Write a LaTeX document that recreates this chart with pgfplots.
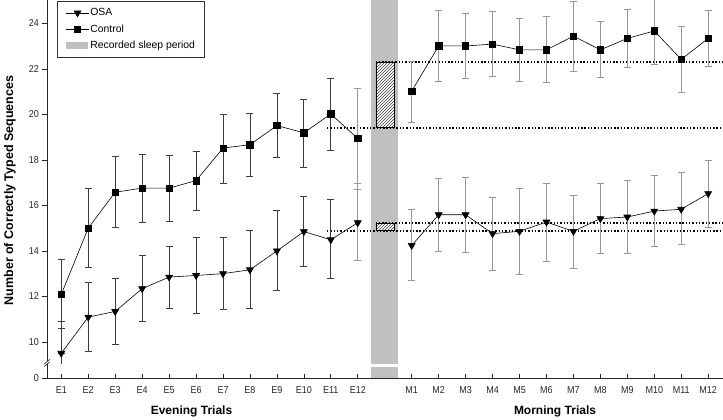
\documentclass[border=0pt]{standalone}
\usepackage{fontspec}
\setmainfont{Liberation Sans}
\newfontfamily\narrowfont[FakeStretch=0.9]{Liberation Sans}
\usepackage{pgfplots}
\pgfplotsset{compat=1.18}
\usepackage{pgfplotstable}
\usetikzlibrary{patterns}

\pgfplotstableread{
x y hi lo
1 12.09 13.61 10.58
2 15.00 16.74 13.27
3 16.58 18.16 15.03
4 16.76 18.25 15.25
5 16.76 18.22 15.29
6 17.09 18.39 15.77
7 18.52 20.02 16.98
8 18.67 20.04 17.29
9 19.51 20.92 18.10
10 19.19 20.68 17.66
11 20.02 21.59 18.41
12 18.94 21.15 16.69
}\ctrlE

\pgfplotstableread{
x y hi lo
14 21.02 22.34 19.64
15 23.01 24.57 21.46
16 23.01 24.44 21.58
17 23.09 24.51 21.68
18 22.84 24.22 21.46
19 22.84 24.32 21.39
20 23.44 24.95 21.90
21 22.84 24.09 21.62
22 23.34 24.63 22.06
23 23.67 25.12 22.22
24 22.42 23.89 20.98
25 23.34 24.57 22.11
}\ctrlM

\pgfplotstableread{
x y hi lo
1 9.50 10.88 9.50
2 11.09 12.60 9.58
3 11.34 12.80 9.88
4 12.34 13.79 10.88
5 12.85 14.21 11.47
6 12.92 14.61 11.24
7 13.00 14.61 11.43
8 13.17 14.89 11.46
9 14.00 15.80 12.25
10 14.85 16.39 13.30
11 14.49 16.25 12.78
12 15.24 16.97 13.57
}\osaE

\pgfplotstableread{
x y hi lo
14 14.24 15.83 12.70
15 15.59 17.20 13.99
16 15.59 17.25 13.95
17 14.76 16.37 13.14
18 14.86 16.74 12.95
19 15.27 16.98 13.54
20 14.86 16.44 13.23
21 15.42 16.97 13.88
22 15.49 17.12 13.90
23 15.75 17.32 14.20
24 15.83 17.44 14.27
25 16.52 17.98 15.03
}\osaM

\definecolor{sleepgray}{RGB}{192,192,192}
\definecolor{darkbar}{RGB}{60,60,60}
\definecolor{lightbar}{RGB}{150,150,150}

\pgfplotsset{
  errdark/.style={only marks, mark=none, forget plot,
    error bars/.cd, y dir=both, y explicit,
    error bar style={draw=darkbar, line width=0.8pt},
    error mark options={draw=darkbar, line width=0.8pt, mark size=3.5pt, rotate=90},
    /pgfplots/.cd},
  errlight/.style={only marks, mark=none, forget plot,
    error bars/.cd, y dir=both, y explicit,
    error bar style={draw=lightbar, line width=1pt},
    error mark options={draw=lightbar, line width=0.8pt, mark size=3.5pt, rotate=90},
    /pgfplots/.cd},
  ctrlline/.style={black, line width=0.6pt, mark=square*, mark size=3.2pt, mark options={solid}},
  osaline/.style={black, line width=0.6pt, mark=triangle*, mark size=4pt, mark options={solid, rotate=180}},
  dotline/.style={black, line width=1.4pt, dash pattern=on 1.4pt off 1.9pt, forget plot},
}

\begin{document}
\begin{tikzpicture}
\begin{axis}[
  at={(47pt,41.7pt)}, anchor=south west,
  scale only axis, width=676pt, height=378.3pt,
  xmin=0.47, xmax=25.55, ymin=8.4, ymax=25.03,
  axis x line=bottom, axis y line=left,
  axis line style={-, black!85, line width=0.8pt},
  tick align=outside, major tick length=4.5pt,
  tick style={black!85, line width=0.7pt},
  x tick style={yshift=4.5pt},
  xtick={1,2,3,4,5,6,7,8,9,10,11,12,14,15,16,17,18,19,20,21,22,23,24,25},
  xticklabels={E1,E2,E3,E4,E5,E6,E7,E8,E9,E10,E11,E12,M1,M2,M3,M4,M5,M6,M7,M8,M9,M10,M11,M12},
  ytick={8.4,10,12,14,16,18,20,22,24},
  yticklabels={0,10,12,14,16,18,20,22,24},
  tick label style={font=\narrowfont\fontsize{10}{12}\selectfont, text=black!85},
  /pgf/number format/assume math mode=true,
  legend style={at={(rel axis cs:0.0152,0.9974)}, anchor=north west,
    draw=black!80, line width=0.7pt, font=\fontsize{10.4}{12}\selectfont,
    inner xsep=8.2pt, inner ysep=5.3pt, row sep=3.9pt,
    nodes={inner sep=1.2pt, text height=8pt, text depth=2pt},
    cells={anchor=west}},
  legend cell align=left,
]
% legend entries
\addlegendimage{osaline, legend image code/.code={\draw[mark repeat=2,mark phase=2] plot coordinates {(0cm,0cm)(0.4cm,0cm)(0.8cm,0cm)};}}
\addlegendentry{OSA}
\addlegendimage{ctrlline, legend image code/.code={\draw[mark repeat=2,mark phase=2] plot coordinates {(0cm,0cm)(0.4cm,0cm)(0.8cm,0cm)};}}
\addlegendentry{Control}
\addlegendimage{area legend, fill=sleepgray, draw=none, legend image code/.code={\fill[sleepgray] (0cm,-0.12cm) rectangle (0.76cm,0.12cm);}}
\addlegendentry{Recorded sleep period}

% sleep period bar
\addplot[fill=sleepgray, draw=none, forget plot] coordinates {(12.5,8.4) (12.5,25.03) (13.5,25.03) (13.5,8.4)} -- cycle;
\addplot[fill=white, draw=none, forget plot] coordinates {(12.45,8.88) (12.45,9.03) (13.55,9.03) (13.55,8.88)} -- cycle;

% hatched boxes
\addplot[draw=black, line width=0.6pt, fill=white, postaction={pattern=north east lines, pattern color=black!75}, forget plot]
  coordinates {(12.67,19.44) (12.67,22.31) (13.36,22.31) (13.36,19.44)} -- cycle;
\addplot[draw=black, line width=0.6pt, fill=white, postaction={pattern=north east lines, pattern color=black!75}, forget plot]
  coordinates {(12.67,14.89) (12.67,15.21) (13.36,15.21) (13.36,14.89)} -- cycle;

% dotted reference lines
\addplot[dotline] coordinates {(10.86,19.41) (25.55,19.41)};
\addplot[dotline] coordinates {(12.66,22.30) (25.55,22.30)};
\addplot[dotline] coordinates {(10.86,14.87) (25.55,14.87)};
\addplot[dotline] coordinates {(12.66,15.23) (25.55,15.23)};

% error bars
\addplot[restrict x to domain=1:11, errdark] table[x=x, y=y, y error plus expr=\thisrow{hi}-\thisrow{y}, y error minus expr=\thisrow{y}-\thisrow{lo}] {\ctrlE};
\addplot[restrict x to domain=12:12, errlight] table[x=x, y=y, y error plus expr=\thisrow{hi}-\thisrow{y}, y error minus expr=\thisrow{y}-\thisrow{lo}] {\ctrlE};
\addplot[restrict x to domain=1:11, errdark] table[x=x, y=y, y error plus expr=\thisrow{hi}-\thisrow{y}, y error minus expr=\thisrow{y}-\thisrow{lo}] {\osaE};
\addplot[restrict x to domain=12:12, errlight] table[x=x, y=y, y error plus expr=\thisrow{hi}-\thisrow{y}, y error minus expr=\thisrow{y}-\thisrow{lo}] {\osaE};
\addplot[darkbar, line width=0.8pt, forget plot] coordinates {(1,9.5) (1,9.03)};
\addplot[errlight] table[x=x, y=y, y error plus expr=\thisrow{hi}-\thisrow{y}, y error minus expr=\thisrow{y}-\thisrow{lo}] {\ctrlM};
\addplot[errlight] table[x=x, y=y, y error plus expr=\thisrow{hi}-\thisrow{y}, y error minus expr=\thisrow{y}-\thisrow{lo}] {\osaM};

% data lines
\addplot[ctrlline, forget plot] table[x=x, y=y] {\ctrlE};
\addplot[ctrlline, forget plot] table[x=x, y=y] {\ctrlM};
\addplot[osaline, forget plot] table[x=x, y=y] {\osaE};
\addplot[osaline, forget plot] table[x=x, y=y] {\osaM};
\end{axis}

% axis break marks
\fill[white] (44.3pt,53.6pt) -- (49.8pt,58.1pt) -- (49.8pt,60.6pt) -- (44.3pt,56.1pt) -- cycle;
\draw[black!85, line width=0.6pt] (44.3pt,53.6pt) -- (49.8pt,58.1pt);
\draw[black!85, line width=0.6pt] (44.3pt,56.1pt) -- (49.8pt,60.6pt);

% axis titles
\node[font=\bfseries\fontsize{12}{14}\selectfont] at (191.5pt,8.3pt) {Evening Trials};
\node[font=\bfseries\fontsize{12}{14}\selectfont] at (555pt,8.3pt) {Morning Trials};
\node[font=\bfseries\fontsize{12.5}{14}\selectfont, rotate=90] at (10pt,229.5pt) {Number of Correctly Typed Sequences};

\pgfresetboundingbox
\path[use as bounding box] (0pt,0pt) rectangle (723pt,420pt);
\end{tikzpicture}
\end{document}
